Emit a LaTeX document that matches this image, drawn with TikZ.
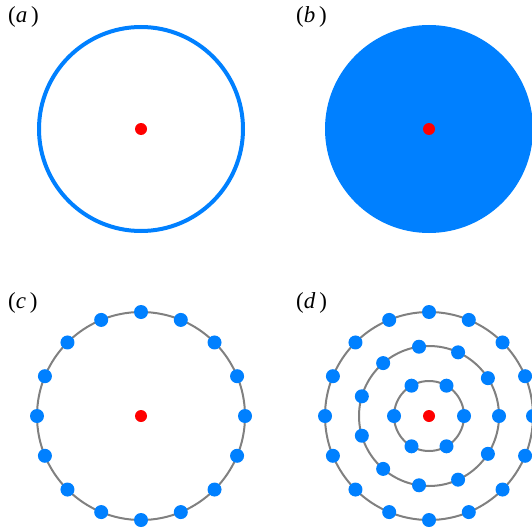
\documentclass[tikz,border=0pt]{standalone}
\usepackage{fontspec}
\setmainfont{Liberation Serif}
\definecolor{Dot}{HTML}{0080FF}
\definecolor{Ring}{HTML}{808080}
\definecolor{Centre}{HTML}{FF0000}
\tikzset{panel/.style={font=\fontsize{23}{27}\selectfont,anchor=west,inner sep=0pt},
  bluedot/.style={circle,fill=Dot,inner sep=0pt,minimum size=14pt},
  reddot/.style={circle,fill=Centre,inner sep=0pt,minimum size=12pt},
  ring/.style={draw=Ring,line width=2pt},
  outline/.style={draw=Dot,line width=4pt}}

\begin{document}
\begin{tikzpicture}[x=1pt,y=-1pt]
    \useasboundingbox (0,0) rectangle (531,532);
    % panel centres
    \coordinate (ca) at (141,129);
    \coordinate (cb) at (429,129);
    \coordinate (cc) at (141,416);
    \coordinate (cd) at (429,416);
    \node[panel] (la) at (8,17) {(\textit{a}\,)};
    \node[panel] (lb) at (296,17) {(\textit{b}\,)};
    \node[panel] (lc) at (8,303) {(\textit{c}\,)};
    \node[panel] (ld) at (296,303) {(\textit{d}\,)};
    % (a) and (b)
    \draw[outline] (ca) circle[radius=102pt];
    \fill[Dot] (cb) circle[radius=104pt];
    % (c)
    \draw[ring] (cc) circle[radius=104pt];
    \foreach \i in {1,...,16}
      \node[bluedot] (c\i) at ([shift={(\i*22.5:104pt)}]cc) {};
    % (d)
    \draw[ring] (cd) circle[radius=35pt];
    \draw[ring] (cd) circle[radius=70pt];
    \draw[ring] (cd) circle[radius=104pt];
    \foreach \i in {1,...,6}
      \node[bluedot] (dA\i) at ([shift={(\i*60:35pt)}]cd) {};
    \foreach \i in {1,...,11}
      \node[bluedot] (dB\i) at ([shift={(\i*360/11:70pt)}]cd) {};
    \foreach \i in {1,...,16}
      \node[bluedot] (dC\i) at ([shift={(\i*22.5:104pt)}]cd) {};
    \node[reddot] (ra) at (ca) {};
    \node[reddot] (rb) at (cb) {};
    \node[reddot] (rc) at (cc) {};
    \node[reddot] (rd) at (cd) {};
\end{tikzpicture}
\end{document}
